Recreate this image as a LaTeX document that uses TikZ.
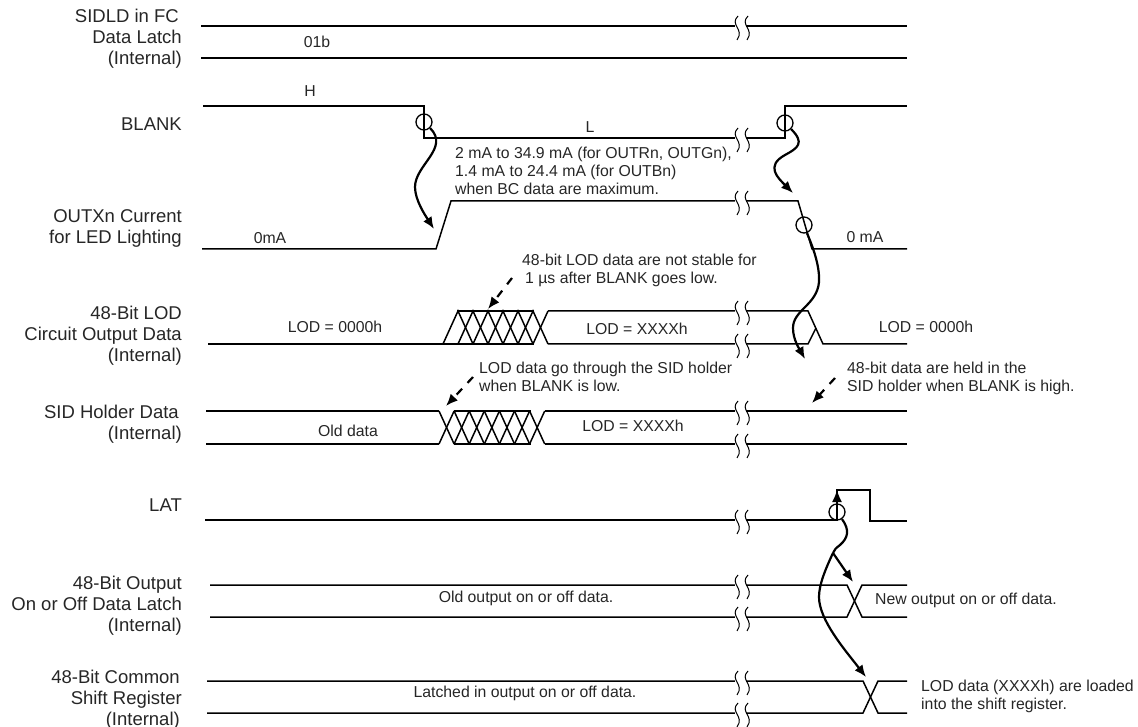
\documentclass[tikz,border=0pt]{standalone}
\usepackage{fontspec}
\setmainfont{Liberation Sans}
\usetikzlibrary{arrows.meta}

\tikzset{
    sig/.style={line width=1.5pt},
    curve/.style={line width=2.2pt},
    cause/.style={curve, -{Latex[length=12pt,width=10pt]}},
    hint/.style={curve, dash pattern=on 8pt off 8pt, -{Latex[length=12pt,width=10pt]}},
    ring/.style={circle, draw, line width=1.3pt, minimum size=16pt, inner sep=0pt},
    rowlab/.style={anchor=east, align=right, inner sep=0pt, font=\fontsize{18.5}{21}\selectfont, text=black!85},
    txt/.style={inner sep=0pt, font=\fontsize{15.8}{18}\selectfont, text=black!85},
    note/.style={txt, anchor=west, align=left},
    brk/.pic={
        \fill[white] (-3,-6) rectangle (8,6);
        \draw[line width=1pt] (0,-10) .. controls (-9,-1) and (7,3) .. (-1,14);
        \draw[line width=1pt] (10,-10) .. controls (1,-1) and (17,3) .. (9,14);
    }
}

\begin{document}
\begin{tikzpicture}[x=1pt, y=-1pt]
    \useasboundingbox (0,0) rectangle (1138,727);

    % Row labels
    \node[rowlab] (labsidld) at (182,38.5) {SIDLD in FC\hspace*{3pt}\\Data Latch\hspace*{3pt}\\(Internal)};
    \node[rowlab] (labblank) at (182,124) {BLANK};
    \node[rowlab] (labout) at (182,228) {OUTXn Current\\for LED Lighting};
    \node[rowlab] (lablod) at (182,336) {48-Bit LOD\\Circuit Output Data\\(Internal)};
    \node[rowlab] (labsid) at (182,424) {SID Holder Data\hspace*{3pt}\\(Internal)};
    \node[rowlab] (lablat) at (182,505) {LAT};
    \node[rowlab] (labonoff) at (182,606) {48-Bit Output\\On or Off Data Latch\\(Internal)};
    \node[rowlab] (labshift) at (182,699.5) {48-Bit Common\hspace*{2pt}\\Shift Register\\(Internal)\hspace*{2pt}};

    % Waveforms
    \draw[sig] (201,26) -- (907,26);
    \draw[sig] (201,58) -- (907,58);
    \draw[sig] (203,106) -- (424,106) -- (424,138) -- (785,138) -- (785,106) -- (907,106);
    \draw[sig] (202,249) -- (436,249) -- (451,201) -- (798,201) -- (812,249) -- (907,249);

    % LOD row
    \draw[sig] (208,344) -- (443,344);
    \draw[sig] (457,311) -- (534,311);
    \draw[sig] (443,344) -- (534,344);
    \draw[sig] (548,311) -- (808,311) -- (823,344) -- (907,344);
    \draw[sig] (548,344) -- (808,344) -- (816,328);
    \foreach \k in {1,...,6}
        \draw[sig] ({443+15*(\k-1)},344) -- ({443+15*\k},311) -- ({443+15*(\k+1)},344);
    \draw[sig] (533,344) -- (548,311);

    % SID holder row
    \draw[sig] (206,411) -- (439,411);
    \draw[sig] (206,444) -- (439,444);
    \draw[sig] (454,411) -- (531,411);
    \draw[sig] (454,444) -- (531,444);
    \draw[sig] (545,411) -- (907,411);
    \draw[sig] (545,444) -- (907,444);
    \foreach \k in {0,...,6}
        \draw[sig] ({439+15.1*\k},411) -- ({439+15.1*(\k+1)},444);
    \foreach \k in {0,...,6}
        \draw[sig] ({439+15.1*\k},444) -- ({439+15.1*(\k+1)},411);

    % LAT and last two rows
    \draw[sig] (205,520) -- (837,520) -- (837,490) -- (870,490) -- (870,521) -- (907,521);
    \draw[sig] (210,585) -- (847,585) -- (862,617) -- (907,617);
    \draw[sig] (210,617) -- (847,617) -- (862,585) -- (907,585);
    \draw[sig] (207,681) -- (863,681) -- (878,713) -- (907,713);
    \draw[sig] (207,713) -- (863,713) -- (878,681) -- (907,681);

    % Breaks
    \foreach \y in {26,138,201,311,344,411,444,520,585,617,681,713}
        \path (738,\y) pic {brk};

    % Rings
    \node[ring] (ringa) at (424,122) {};
    \node[ring] (ringb) at (785,123) {};
    \node[ring] (ringc) at (804,225) {};
    \node[ring] (ringd) at (837,512) {};

    % Ends of the arrows
    \coordinate (outup) at (434,229);
    \coordinate (outdown) at (793,193);
    \coordinate (sidhold) at (805,359);
    \coordinate (split) at (833,553);
    \coordinate (newout) at (853,582);
    \coordinate (shifted) at (866,677);
    \coordinate (hatchtop) at (488,309);
    \coordinate (hatchsid) at (446,406);
    \coordinate (heldtop) at (812,403);
    \coordinate (hinta) at (512,278);
    \coordinate (hintb) at (473,377);
    \coordinate (hintc) at (835,378);

    % Arrows
    \draw[cause] (ringa.-45) .. controls (450,148) and (415,165) .. (415,187) .. controls (415,200) and (425,215) .. (outup);
    \draw[cause] (ringb.-45) .. controls (805,143) and (798,148) .. (785,155) .. controls (765,166) and (778,178) .. (outdown);
    \draw[cause] (ringc.-70) .. controls (812,245) and (820,265) .. (819,282) .. controls (817,305) and (793,310) .. (793,328) .. controls (793,340) and (800,350) .. (sidhold);
    \draw[sig, -{Latex[length=12pt,width=10pt]}] (837,520) -- (ringd.center) -- (837,490);
    \draw[curve] (ringd.-55) .. controls (850,530) and (848,538) .. (840,545) .. controls (836,548) and (834,550) .. (split);
    \draw[cause] (split) -- (newout);
    \draw[cause] (split) .. controls (825,570) and (819,585) .. (819,597) .. controls (819,620) and (845,650) .. (shifted);

    % Dashed pointers
    \draw[hint] (hinta) -- (hatchtop);
    \draw[hint] (hintb) -- (hatchsid);
    \draw[hint] (hintc) -- (heldtop);

    % Level texts
    \node[txt] (t01b) at (317,42) {01b};
    \node[txt] (thigh) at (310,91) {H};
    \node[txt] (tlow) at (590,127) {L};
    \node[txt] (tzeroa) at (270,238) {0mA};
    \node[txt] (tzerob) at (865,237) {0 mA};
    \node[txt] (tloda) at (335,327) {LOD = 0000h};
    \node[txt] (tlodb) at (637,329) {LOD = XXXXh};
    \node[txt] (tlodc) at (926,327) {LOD = 0000h};
    \node[txt] (told) at (348,431) {Old data};
    \node[txt] (tlodd) at (633,426) {LOD = XXXXh};
    \node[txt] (toldout) at (526,598) {Old output on or off data.};
    \node[txt] (tlatched) at (525,693) {Latched in output on or off data.};

    % Notes
    \node[note] (nrange) at (455,171) {2 mA to 34.9 mA (for OUTRn, OUTGn),\\1.4 mA to 24.4 mA (for OUTBn)\\when BC data are maximum.};
    \node[note] (nstable) at (522,270) {48-bit LOD data are not stable for\\\hspace*{3pt}1 µs after BLANK goes low.};
    \node[note] (nthrough) at (479,377) {LOD data go through the SID holder\\when BLANK is low.};
    \node[note] (nheld) at (847,378) {48-bit data are held in the\\SID holder when BLANK is high.};
    \node[note] (nnew) at (875,600) {New output on or off data.};
    \node[note] (nloaded) at (921,696) {LOD data (XXXXh) are loaded\\into the shift register.};
\end{tikzpicture}
\end{document}
